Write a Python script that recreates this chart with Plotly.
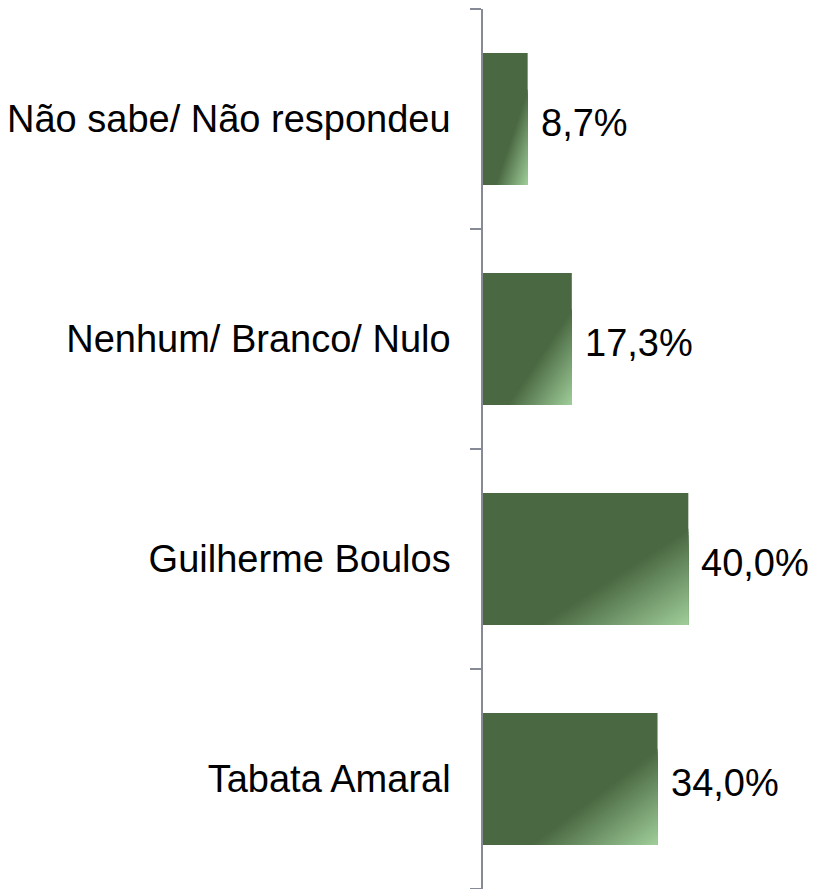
import plotly.graph_objects as go

categories = ["Tabata Amaral", "Guilherme Boulos", "Nenhum/ Branco/ Nulo", "Não sabe/ Não respondeu"]
values = [34.0, 40.0, 17.3, 8.7]
value_labels = ["34,0%", "40,0%", "17,3%", "8,7%"]

DARK = (74, 104, 66)
LIGHT = (160, 206, 154)
BAR_W = 0.6
FONT = "Arial, Liberation Sans, sans-serif"

pos = list(range(len(categories)))
fig = go.Figure()
fig.add_trace(go.Bar(
    x=values, y=pos, orientation="h", width=BAR_W,
    marker=dict(color="rgb(%d,%d,%d)" % DARK, line=dict(width=0)),
    hoverinfo="skip", showlegend=False,
))

# diagonal gradient toward the bottom-right corner of each bar, built as nested triangles
s0, s1, n = 1.27, 2.0, 30
for k in range(n):
    t = s0 + (s1 - s0) * k / n
    mid = s0 + (s1 - s0) * (k + 0.5) / n
    f = (mid - s0) / (s1 - s0)
    col = tuple(round(DARK[i] + (LIGHT[i] - DARK[i]) * f) for i in range(3))
    xs, ys = [], []
    for p, v in zip(pos, values):
        top = p + BAR_W / 2
        a = t - 1
        xs += [a * v, v, v, a * v, None]
        ys += [top - BAR_W, top - BAR_W, top - a * BAR_W, top - BAR_W, None]
    fig.add_trace(go.Scatter(
        x=xs, y=ys, mode="lines", fill="toself",
        fillcolor="rgb(%d,%d,%d)" % col, line=dict(width=0),
        hoverinfo="skip", showlegend=False,
    ))

for p, v, lab in zip(pos, values, value_labels):
    fig.add_annotation(x=v, y=p, text=lab, showarrow=False, xanchor="left",
                       xshift=11, yshift=-4, font=dict(family=FONT, size=38, color="black"))

fig.update_layout(
    width=813, height=889,
    margin=dict(l=483, r=99, t=9, b=0),
    paper_bgcolor="white", plot_bgcolor="white",
    xaxis=dict(range=[0, 45], visible=False, showgrid=False, zeroline=False),
    yaxis=dict(
        range=[-0.5, len(categories) - 0.5],
        tickvals=pos, ticktext=categories,
        ticks="outside", ticklen=23, tickcolor="rgba(0,0,0,0)",
        showline=True, linecolor="#868a96", linewidth=1.5,
        showgrid=False, zeroline=False,
        tickfont=dict(family=FONT, size=38, color="black"),
        minor=dict(tickmode="array", tickvals=[p - 0.5 for p in pos] + [len(pos) - 0.5],
                   ticks="outside", ticklen=11, tickcolor="#868a96", tickwidth=1.5,
                   showgrid=False),
    ),
)

fig.write_html("out.html", config={"displayModeBar": False},
               post_script="document.body.style.margin='0px';")
